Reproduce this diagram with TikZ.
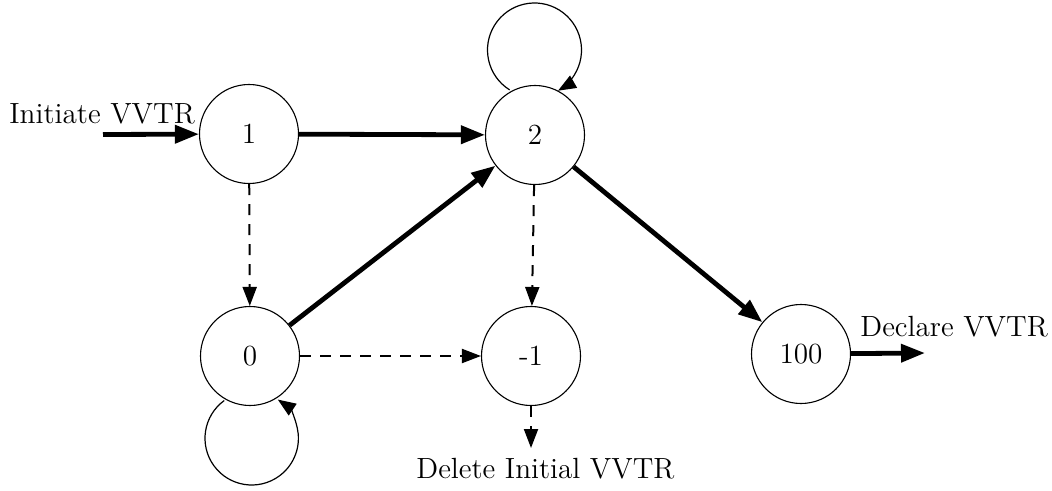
\documentclass[tikz,border=0pt]{standalone}
\usetikzlibrary{arrows.meta,calc}
\newcommand{\diagfont}{\fontsize{14.6}{17.5}\selectfont}
\tikzset{
  state/.style={circle, draw, line width=0.55pt, minimum size=49.5pt, inner sep=0pt, font=\diagfont},
  label text/.style={inner sep=0pt, font=\diagfont},
  heavy/.style={line width=2.4pt, -{Triangle[length=12pt,width=8.8pt]}},
  light/.style={line width=1pt, dash pattern=on 5.5pt off 4.5pt, -{Triangle[length=9.5pt,width=7pt]}},
  selfloop/.style={line width=0.6pt, -{Triangle[length=9pt,width=7pt]}},
}
\begin{document}
\begin{tikzpicture}[x=0.5pt,y=-0.5pt]
  \useasboundingbox (0,0) rectangle (1052,491);

  % states
  \node[state] (n1)   at (249,134) {1};
  \node[state] (n2)   at (535,135) {2};
  \node[state] (n0)   at (250,356) {0};
  \node[state] (nm1)  at (531,356) {-1};
  \node[state] (n100) at (801,354) {100};

  % free ends of the entry and exit arrows
  \coordinate (ini) at (103,134.5);
  \coordinate (dec) at (925,353);
  \coordinate (del) at (531,448);

  % texts
  \node[label text, anchor=base west] (tini) at (9,123.3) {Initiate VVTR};
  \node[label text, anchor=base west] (tdec) at (860,336.7) {Declare VVTR};
  \node[label text, anchor=base west] (tdel) at (416,478.3) {Delete Initial VVTR};

  % solid transitions
  \draw[heavy] (ini) -- (n1);
  \draw[heavy] (n1) -- (n2);
  \draw[heavy] (n0) -- (n2);
  \draw[heavy] (n2) -- (n100);
  \draw[heavy] (n100) -- (dec);

  % dashed transitions
  \draw[light] (n1) -- (n0);
  \draw[light] (n2) -- (nm1);
  \draw[light] (n0) -- (nm1);
  \draw[light] (nm1) -- (del);

  % self loops
  \coordinate (c2) at ($(n2)+(-0.5,-85)$);
  \coordinate (c0) at ($(n0)+(1.7,82.3)$);
  \draw[selfloop] ($(c2)+(122:47)$) arc[start angle=122, end angle=420, radius=47];
  \draw[selfloop] ($(c0)+(234:46.7)$) arc[start angle=234, end angle=-56, radius=46.7];
\end{tikzpicture}
\end{document}
